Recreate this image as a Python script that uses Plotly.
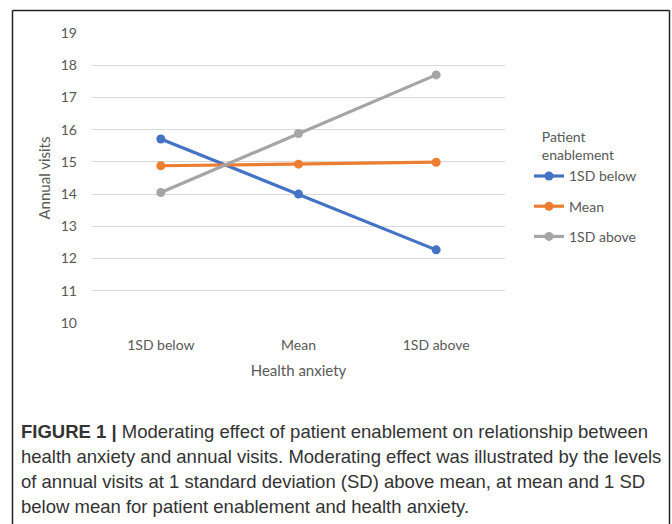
import plotly.graph_objects as go

categories = ["1SD below", "Mean", "1SD above"]
series_names = ["1SD below", "Mean", "1SD above"]
low_values = [15.71, 14.0, 12.27]
mean_values = [14.88, 14.93, 14.99]
high_values = [14.05, 15.88, 17.7]
colors = ["#4472C4", "#ED7D31", "#A5A5A5"]
y_ticks = [10, 11, 12, 13, 14, 15, 16, 17, 18, 19]
caption_lines = [
    "<b>FIGURE 1 |</b> Moderating effect of patient enablement on relationship between",
    "health anxiety and annual visits. Moderating effect was illustrated by the levels",
    "of annual visits at 1 standard deviation (SD) above mean, at mean and 1 SD",
    "below mean for patient enablement and health anxiety.",
]

W, H = 672, 524
fig = go.Figure()
for name, vals, col in zip(series_names, [low_values, mean_values, high_values], colors):
    fig.add_trace(go.Scatter(
        x=categories, y=vals, name=name, mode="lines+markers",
        line=dict(color=col, width=3.2),
        marker=dict(color=col, size=9),
        legendgroup=name,
    ))

FONT = "Lato, Open Sans, sans-serif"
tick_font = dict(family=FONT, size=14, color="#595959")
fig.update_layout(
    width=W, height=H, autosize=False,
    margin=dict(l=0, r=0, t=0, b=0, autoexpand=False),
    paper_bgcolor="white", plot_bgcolor="white",
    xaxis=dict(
        domain=[92 / W, 505 / W], type="category", range=[-0.5, 2.5],
        showgrid=False, showline=False, zeroline=False, ticks="",
        tickfont=tick_font, ticklabelstandoff=12, automargin=False,
        title=dict(text="Health anxiety", font=dict(family=FONT, size=15, color="#595959"), standoff=13),
    ),
    yaxis=dict(
        domain=[(H - 323) / H, (H - 33) / H], range=[10, 19],
        tickvals=y_ticks, showgrid=True, gridcolor="#D9D9D9", gridwidth=1,
        zeroline=False, showline=False, ticks="", tickfont=tick_font,
        ticklabelstandoff=14, automargin=False,
        title=dict(text="Annual visits", font=dict(family=FONT, size=15, color="#595959"), standoff=6),
    ),
    legend=dict(
        x=529 / W, y=(H - 124) / H, xanchor="left", yanchor="top",
        title=dict(text="&nbsp;&nbsp;&nbsp;Patient<br>&nbsp;&nbsp;&nbsp;enablement", font=dict(family=FONT, size=14, color="#595959"), side="top"),
        font=dict(family=FONT, size=14, color="#595959"),
        itemwidth=30, tracegroupgap=9, bgcolor="rgba(0,0,0,0)",
    ),
    showlegend=True,
)

frame = dict(type="line", xref="paper", yref="paper", line=dict(color="#222222", width=1.5), layer="below")
fig.add_shape(x0=12.5 / W, x1=12.5 / W, y0=0, y1=(H - 10.5) / H, **frame)
fig.add_shape(x0=669.5 / W, x1=669.5 / W, y0=0, y1=(H - 10.5) / H, **frame)
fig.add_shape(x0=12.5 / W, x1=669.5 / W, y0=(H - 10.5) / H, y1=(H - 10.5) / H, **frame)

for i, line in enumerate(caption_lines):
    fig.add_annotation(
        text=line, xref="paper", yref="paper", x=19 / W, y=(H - (431 + 25 * i)) / H,
        xanchor="left", yanchor="middle", showarrow=False, align="left",
        font=dict(family="Liberation Sans, Arial, sans-serif", size=18.5, color="#333333"),
    )

post = (
    "document.documentElement.style.overflow='hidden';"
    "document.body.style.margin='0';document.body.style.padding='0';document.body.style.overflow='hidden';"
)
fig.write_html("out.html", config={"displayModeBar": False}, post_script=post)
